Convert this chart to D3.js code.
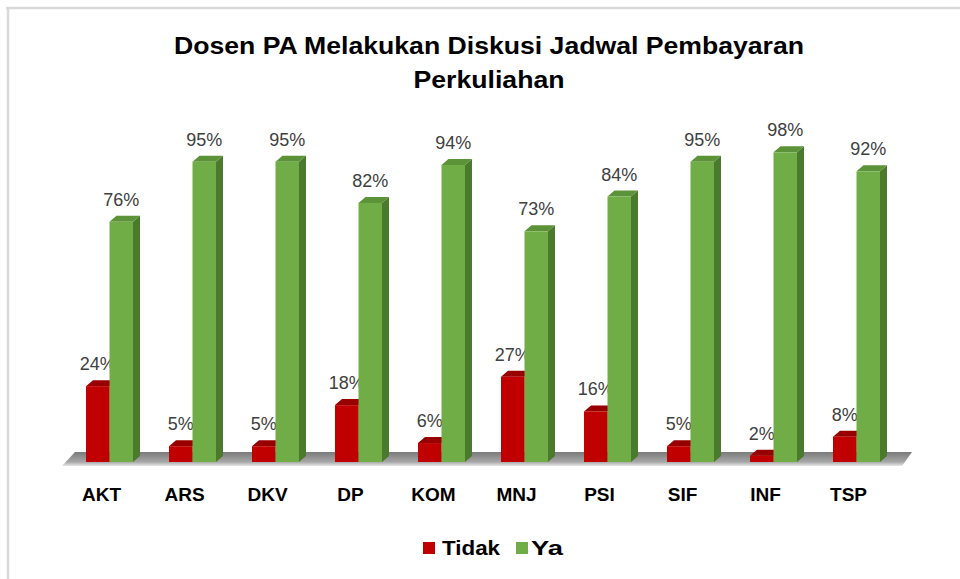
<!DOCTYPE html>
<html>
<head>
<meta charset="utf-8">
<script src="https://cdn.jsdelivr.net/npm/d3@7"></script>
<style>
  body { margin: 0; background: #fff; }
  svg { display: block; font-family: "Liberation Sans", Arial, sans-serif; }
</style>
</head>
<body>
<svg id="chart" width="960" height="579"></svg>
<script>
// chart data
const categories = ['AKT', 'ARS', 'DKV', 'DP', 'KOM', 'MNJ', 'PSI', 'SIF', 'INF', 'TSP'];
const seriesNames = ['Tidak', 'Ya'];
const tidakValues = [0.24, 0.05, 0.05, 0.18, 0.06, 0.27, 0.16, 0.05, 0.02, 0.08];
const yaValues = [0.76, 0.95, 0.95, 0.82, 0.94, 0.73, 0.84, 0.95, 0.98, 0.92];
const titleLines = ['Dosen PA Melakukan Diskusi Jadwal Pembayaran', 'Perkuliahan'];

const COLORS = {
    Tidak: { front: '#c00000', top: '#980000', side: '#8a0000' },
    Ya: { front: '#70ad47', top: '#5c9238', side: '#4a7a2c' },
    label: '#404040',
    border: '#d9d9d9'
}

const DEPTH = { dx: 7, dy: -6 };
const baseY = 462;

var svg = d3.select('#chart');

var defs = svg.append('defs');
var floorGrad = defs.append('linearGradient')
    .attr('id', 'floorGrad')
    .attr('x1', 0).attr('y1', 0).attr('x2', 0).attr('y2', 1);
floorGrad.append('stop').attr('offset', '0%').attr('stop-color', '#7a7a7a');
floorGrad.append('stop').attr('offset', '70%').attr('stop-color', '#a6a6a6');
floorGrad.append('stop').attr('offset', '100%').attr('stop-color', '#e6e6e6');

// chart border (only top and left visible)
svg.append('line')
    .attr('x1', 6).attr('y1', 8).attr('x2', 960).attr('y2', 8)
    .attr('stroke', COLORS.border).attr('stroke-width', 2.5);
svg.append('line')
    .attr('x1', 8).attr('y1', 7).attr('x2', 8).attr('y2', 579)
    .attr('stroke', COLORS.border).attr('stroke-width', 2.5);

// title
var titleWidths = [630, 151];
svg.selectAll('.title')
    .data(titleLines)
    .enter()
    .append('text')
    .attr('class', 'title')
    .attr('x', 489)
    .attr('y', (d, i) => 54 + i * 33.5)
    .attr('text-anchor', 'middle')
    .attr('font-size', 23)
    .attr('font-weight', 'bold')
    .attr('fill', '#000')
    .attr('textLength', (d, i) => titleWidths[i])
    .attr('lengthAdjust', 'spacingAndGlyphs')
    .text(d => d);

var x = d3.scaleBand()
    .domain(categories)
    .range([86, 880])
    .paddingInner(36 / 83)
    .paddingOuter(0);

var xInner = d3.scaleBand()
    .domain(seriesNames)
    .range([0, x.bandwidth()]);

var y = d3.scaleLinear()
    .domain([0, 1])
    .range([baseY, 146]);

// floor
svg.append('path')
    .attr('d', 'M62,466 L902,466 L912,452 L75,452 Z')
    .attr('fill', 'url(#floorGrad)');

var rows = categories.map((c, i) => ({
    cat: c,
    bars: [
        { series: 'Tidak', value: tidakValues[i] },
        { series: 'Ya', value: yaValues[i] }
    ]
}));

var groups = svg.selectAll('.group')
    .data(rows)
    .enter()
    .append('g')
    .attr('class', 'group')
    .attr('transform', d => 'translate(' + x(d.cat) + ',0)');

var bars = groups.selectAll('.bar')
    .data(d => d.bars)
    .enter()
    .append('g')
    .attr('class', 'bar');

function barGeom (d) {
    var x0 = xInner(d.series);
    var x1 = x0 + xInner.bandwidth();
    var yt = y(d.value);
    return { x0: x0, x1: x1, yt: yt };
}

// side face
bars.append('path')
    .attr('d', d => {
        var g = barGeom(d);
        return 'M' + g.x1 + ',' + baseY + ' L' + (g.x1 + DEPTH.dx) + ',' + (baseY + DEPTH.dy) +
            ' L' + (g.x1 + DEPTH.dx) + ',' + (g.yt + DEPTH.dy) + ' L' + g.x1 + ',' + g.yt + ' Z';
    })
    .attr('fill', d => COLORS[d.series].side);

// top face
bars.append('path')
    .attr('d', d => {
        var g = barGeom(d);
        return 'M' + g.x0 + ',' + g.yt + ' L' + (g.x0 + DEPTH.dx) + ',' + (g.yt + DEPTH.dy) +
            ' L' + (g.x1 + DEPTH.dx) + ',' + (g.yt + DEPTH.dy) + ' L' + g.x1 + ',' + g.yt + ' Z';
    })
    .attr('fill', d => COLORS[d.series].top);

// front face
bars.append('rect')
    .attr('x', d => xInner(d.series))
    .attr('y', d => y(d.value))
    .attr('width', xInner.bandwidth())
    .attr('height', d => baseY - y(d.value))
    .attr('fill', d => COLORS[d.series].front);

// value labels
bars.append('text')
    .attr('x', d => xInner(d.series) + xInner.bandwidth() / 2)
    .attr('y', d => y(d.value) - 16)
    .attr('text-anchor', 'middle')
    .attr('font-size', 18)
    .attr('fill', COLORS.label)
    .text(d => Math.round(d.value * 100) + '%');

// category labels
groups.append('text')
    .attr('x', x.bandwidth() / 2 - 8)
    .attr('y', 501)
    .attr('text-anchor', 'middle')
    .attr('font-size', 19)
    .attr('font-weight', 'bold')
    .attr('fill', '#000')
    .text(d => d.cat);

// legend
var legendItems = [
    { name: 'Tidak', sx: 423, tx: 442, w: 58 },
    { name: 'Ya', sx: 516, tx: 531, w: 32 }
];
var legend = svg.selectAll('.legend')
    .data(legendItems)
    .enter()
    .append('g')
    .attr('class', 'legend');
legend.append('rect')
    .attr('x', d => d.sx)
    .attr('y', 542)
    .attr('width', 12)
    .attr('height', 12)
    .attr('fill', d => COLORS[d.name].front);
legend.append('text')
    .attr('x', d => d.tx)
    .attr('y', 555)
    .attr('font-size', 20)
    .attr('font-weight', 'bold')
    .attr('fill', '#000')
    .attr('textLength', d => d.w)
    .attr('lengthAdjust', 'spacingAndGlyphs')
    .text(d => d.name);
</script>
</body>
</html>
